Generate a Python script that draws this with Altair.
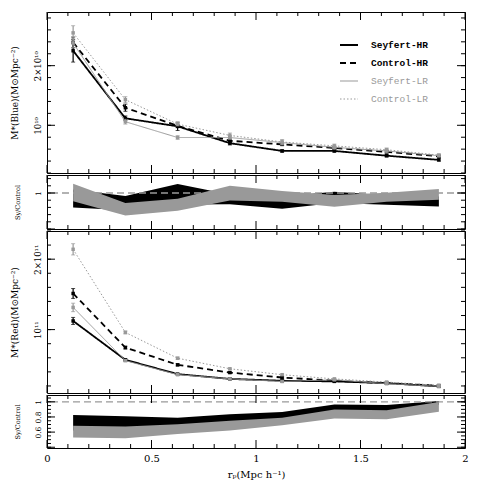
import altair as alt
import pandas as pd
import numpy as np

# ---------------- data ----------------
X = [0.125, 0.375, 0.625, 0.875, 1.125, 1.375, 1.625, 1.875]
SERIES = ["Seyfert-HR", "Control-HR", "Seyfert-LR", "Control-LR"]

# Blue, units of 1e10
BLUE_SHR = [2.25, 1.117, 0.983, 0.70, 0.57, 0.57, 0.49, 0.42]
BLUE_SHR_ERR = [0.19, 0.04, 0.07, 0.03, 0.02, 0.02, 0.02, 0.02]
BLUE_CHR = [2.39, 1.295, 0.99, 0.74, 0.68, 0.62, 0.555, 0.48]
BLUE_CHR_ERR = [0.09, 0.06, 0.03, 0.03, 0.02, 0.02, 0.02, 0.02]
BLUE_SLR = [2.38, 1.06, 0.795, 0.795, 0.71, 0.63, 0.57, 0.49]
BLUE_SLR_ERR = [0.08, 0.04, 0.03, 0.03, 0.04, 0.03, 0.03, 0.02]
BLUE_CLR = [2.55, 1.43, 1.02, 0.83, 0.72, 0.655, 0.59, 0.50]
BLUE_CLR_ERR = [0.12, 0.05, 0.03, 0.04, 0.04, 0.03, 0.03, 0.02]

# Red, units of 1e11
RED_SHR = [1.123, 0.571, 0.368, 0.30, 0.274, 0.265, 0.24, 0.194]
RED_SHR_ERR = [0.05, 0.015, 0.01, 0.01, 0.01, 0.01, 0.01, 0.01]
RED_CHR = [1.513, 0.745, 0.50, 0.39, 0.32, 0.274, 0.24, 0.204]
RED_CHR_ERR = [0.07, 0.02, 0.015, 0.01, 0.01, 0.01, 0.01, 0.01]
RED_SLR = [1.315, 0.56, 0.36, 0.30, 0.264, 0.288, 0.232, 0.194]
RED_SLR_ERR = [0.06, 0.015, 0.01, 0.01, 0.01, 0.01, 0.01, 0.01]
RED_CLR = [2.14, 0.96, 0.594, 0.444, 0.36, 0.30, 0.255, 0.21]
RED_CLR_ERR = [0.08, 0.02, 0.015, 0.01, 0.01, 0.01, 0.01, 0.01]

# Ratio bands (Sy/Control)
BR_HR_LO = [0.80, 0.76, 0.84, 0.845, 0.78, 0.86, 0.836, 0.813]
BR_HR_HI = [1.05, 0.96, 1.125, 0.98, 0.95, 1.018, 0.97, 0.95]
BR_LR_LO = [0.885, 0.686, 0.755, 0.895, 0.88, 0.81, 0.88, 0.905]
BR_LR_HI = [1.127, 0.86, 0.92, 1.10, 1.027, 0.973, 1.004, 1.055]

RR_HR_LO = [0.62, 0.60, 0.62, 0.68, 0.72, 0.84, 0.83, 0.96]
RR_HR_HI = [0.827, 0.81, 0.79, 0.835, 0.866, 0.965, 0.957, 1.01]
RR_LR_LO = [0.53, 0.52, 0.575, 0.62, 0.69, 0.78, 0.77, 0.87]
RR_LR_HI = [0.684, 0.675, 0.705, 0.75, 0.79, 0.90, 0.89, 0.996]

GRAY = "#999999"
STYLE = {
    "Seyfert-HR": dict(color="black", dash=[1, 0], width=1.8),
    "Control-HR": dict(color="black", dash=[6, 4], width=1.8),
    "Seyfert-LR": dict(color=GRAY, dash=[1, 0], width=1.0),
    "Control-LR": dict(color=GRAY, dash=[1.5, 2], width=1.0),
}

W = 418
SERIF = "DejaVu Serif"

XAXIS = alt.Axis(values=[0, 0.5, 1, 1.5, 2], title="rₚ(Mpc h⁻¹)", labelFlush=False,
                 labelExpr="'' + datum.value", grid=False, ticks=False, domain=False,
                 labelOverlap=False, labelPadding=5, titlePadding=6,
                 labelFont=SERIF, titleFont=SERIF, titleFontWeight="normal",
                 labelColor="black", titleColor="black",
                 labelFontSize=10, titleFontSize=10)


def xe(field, bottom):
    return alt.X(f"{field}:Q", scale=alt.Scale(domain=[0, 2], nice=False, zero=False),
                 axis=XAXIS if bottom else None)


def make_ye(ydom, axis):
    def ye(field):
        return alt.Y(f"{field}:Q", scale=alt.Scale(domain=ydom, nice=False, zero=False), axis=axis)
    return ye


def tick_layers(h, ye, ymin, ymaj, bottom):
    xmin = [round(i * 0.1, 2) for i in range(0, 21) if i % 5 != 0]
    xmaj = [0, 0.5, 1.0, 1.5, 2.0]
    out = []
    for vals, L in [(xmin, 4), (xmaj, 8)]:
        df = pd.DataFrame({"t": vals})
        out.append(alt.Chart(df).mark_rule(color="black", strokeWidth=1).encode(
            x=xe("t", bottom), y=alt.value(h), y2=alt.value(h - L)))
        out.append(alt.Chart(df).mark_rule(color="black", strokeWidth=1).encode(
            x=xe("t", bottom), y=alt.value(0), y2=alt.value(L)))
    for vals, L in [(ymin, 4), (ymaj, 8)]:
        df = pd.DataFrame({"t": vals})
        out.append(alt.Chart(df).mark_rule(color="black", strokeWidth=1).encode(
            y=ye("t"), x=alt.value(0), x2=alt.value(L)))
        out.append(alt.Chart(df).mark_rule(color="black", strokeWidth=1).encode(
            y=ye("t"), x=alt.value(W), x2=alt.value(W - L)))
    return out


def series_layers(vals, errs, ye, bottom):
    out = []
    for name in SERIES:
        v = vals[name]
        e = errs[name]
        st = STYLE[name]
        df = pd.DataFrame({"x": X, "v": v,
                           "lo": [a - b for a, b in zip(v, e)],
                           "hi": [a + b for a, b in zip(v, e)]})
        out.append(alt.Chart(df).mark_line(color=st["color"], strokeDash=st["dash"],
                                           strokeWidth=st["width"]).encode(
            x=xe("x", bottom), y=ye("v")))
        out.append(alt.Chart(df).mark_rule(color=st["color"], strokeWidth=1.2).encode(
            x=xe("x", bottom), y=ye("lo"), y2="hi:Q"))
        for f in ["lo", "hi"]:
            out.append(alt.Chart(df).mark_tick(color=st["color"], orient="horizontal",
                                               size=4, thickness=1).encode(
                x=xe("x", bottom), y=ye(f)))
        out.append(alt.Chart(df).mark_square(color=st["color"], size=12, opacity=1).encode(
            x=xe("x", bottom), y=ye("v")))
    return out


def ratio_layers(hr_lo, hr_hi, lr_lo, lr_hi, ye, bottom):
    dfh = pd.DataFrame({"x": X, "lo": hr_lo, "hi": hr_hi})
    dfl = pd.DataFrame({"x": X, "lo": lr_lo, "hi": lr_hi})
    out = [
        alt.Chart(dfh).mark_area(color="black", opacity=1).encode(
            x=xe("x", bottom), y=ye("lo"), y2="hi:Q"),
        alt.Chart(dfl).mark_area(color=GRAY, opacity=1).encode(
            x=xe("x", bottom), y=ye("lo"), y2="hi:Q"),
        alt.Chart(pd.DataFrame({"v": [1.0]})).mark_rule(
            color=GRAY, strokeDash=[7, 4], strokeWidth=1.3).encode(y=ye("v")),
    ]
    return out


def legend_layers():
    out = []
    rows = [33, 51, 69, 87]
    one = pd.DataFrame({"a": [0]})
    for name, yy in zip(SERIES, rows):
        st = STYLE[name]
        out.append(alt.Chart(one).mark_rule(color=st["color"], strokeDash=st["dash"],
                                            strokeWidth=st["width"]).encode(
            x=alt.value(293), x2=alt.value(311), y=alt.value(yy)))
        out.append(alt.Chart(one).mark_text(
            align="left", baseline="middle", font="Liberation Mono", fontSize=9.5,
            fontWeight="bold" if st["color"] == "black" else "normal",
            color=st["color"]).encode(
            x=alt.value(324), y=alt.value(yy), text=alt.value(name)))
    return out


def big_axis(title, values, expr, h):
    return alt.Axis(values=values, labelExpr=expr, title=title, titleX=-33, titleY=h / 2,
                    titleAngle=270, titleAlign="center", titleBaseline="middle",
                    titleFontSize=9, labelFontSize=8.5, labelAngle=270,
                    labelAlign="center", labelBaseline="bottom", labelPadding=5,
                    grid=False, ticks=False, domain=False,
                    labelFont=SERIF, titleFont=SERIF, titleFontWeight="normal",
                    labelColor="black", titleColor="black")


def small_axis(values, h):
    return alt.Axis(values=values, labelExpr="'' + datum.value", title="Sy/Control",
                    titleX=-30, titleY=h / 2,
                    titleAngle=270, titleAlign="center", titleBaseline="middle",
                    titleFontSize=6.5, labelFontSize=7.5, labelAngle=270,
                    labelAlign="center", labelBaseline="bottom", labelPadding=5,
                    grid=False, ticks=False, domain=False,
                    labelFont=SERIF, titleFont=SERIF, titleFontWeight="normal",
                    labelColor="black", titleColor="black")


def frange(a, b, s):
    return [round(v, 3) for v in np.arange(a, b + s / 2, s)]


# ---- panel 1: blue ----
H1 = 161
ye1 = make_ye([0.2, 2.9], big_axis("M*(Blue)(M⊙Mpc⁻²)", [1, 2],
                                  "datum.value == 1 ? '10¹⁰' : '2×10¹⁰'", H1))
p1 = alt.layer(
    *series_layers({"Seyfert-HR": BLUE_SHR, "Control-HR": BLUE_CHR,
                    "Seyfert-LR": BLUE_SLR, "Control-LR": BLUE_CLR},
                   {"Seyfert-HR": BLUE_SHR_ERR, "Control-HR": BLUE_CHR_ERR,
                    "Seyfert-LR": BLUE_SLR_ERR, "Control-LR": BLUE_CLR_ERR}, ye1, False),
    *legend_layers(),
    *tick_layers(H1, ye1, frange(0.2, 2.8, 0.2), [1, 2], False),
).properties(width=W, height=H1)

# ---- panel 2: blue ratio ----
H2 = 54
ye2 = make_ye([0.5, 1.25], small_axis([1], H2))
p2 = alt.layer(
    *ratio_layers(BR_HR_LO, BR_HR_HI, BR_LR_LO, BR_LR_HI, ye2, False),
    *tick_layers(H2, ye2, frange(0.5, 1.2, 0.1), [0.5, 1.0], False),
).properties(width=W, height=H2)

# ---- panel 3: red ----
H3 = 162
ye3 = make_ye([0.1, 2.4], big_axis("M*(Red)(M⊙Mpc⁻²)", [1, 2],
                                  "datum.value == 1 ? '10¹¹' : '2×10¹¹'", H3))
p3 = alt.layer(
    *series_layers({"Seyfert-HR": RED_SHR, "Control-HR": RED_CHR,
                    "Seyfert-LR": RED_SLR, "Control-LR": RED_CLR},
                   {"Seyfert-HR": RED_SHR_ERR, "Control-HR": RED_CHR_ERR,
                    "Seyfert-LR": RED_SLR_ERR, "Control-LR": RED_CLR_ERR}, ye3, False),
    *tick_layers(H3, ye3, frange(0.2, 2.4, 0.2), [1, 2], False),
).properties(width=W, height=H3)

# ---- panel 4: red ratio ----
H4 = 53
ye4 = make_ye([0.39, 1.09], small_axis([0.6, 0.8, 1], H4))
p4 = alt.layer(
    *ratio_layers(RR_HR_LO, RR_HR_HI, RR_LR_LO, RR_LR_HI, ye4, True),
    *tick_layers(H4, ye4, frange(0.4, 1.05, 0.05), [0.4, 0.6, 0.8, 1.0], True),
).properties(width=W, height=H4)

chart = alt.vconcat(p1, p2, p3, p4, spacing=0).properties(
    padding={"left": 1, "top": 3, "right": 5, "bottom": 5},
    background="white",
).configure_view(stroke="black", strokeWidth=1).configure_axis(
    ticks=False, domain=False, grid=False, labelFont=SERIF, titleFont=SERIF,
    labelColor="black", titleColor="black", titleFontWeight="normal"
)

chart.save("out.html", embed_options={"renderer": "svg", "actions": False})
